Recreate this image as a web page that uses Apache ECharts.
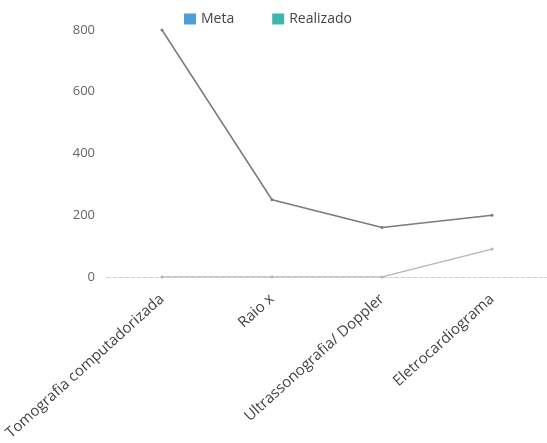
<!DOCTYPE html>
<html><head><meta charset="utf-8">
<script src="https://cdn.jsdelivr.net/npm/echarts@6/dist/echarts.min.js"></script>
<style>html,body{margin:0;padding:0;background:#fff}#c{width:547px;height:443px}</style>
</head><body><div id="c"></div>
<script>
const categories = ['Tomografia computadorizada', 'Raio x', 'Ultrassonografia/ Doppler', 'Eletrocardiograma'];
const meta = [800, 250, 160, 200];
const realizado = [0, 0, 0, 90];
const yTicks = [0, 200, 400, 600, 800];

const chart = echarts.init(document.getElementById('c'));
chart.setOption({
  animation: false,
  textStyle: { fontFamily: 'Open Sans' },
  legend: {
    top: 7, left: 179,
    icon: 'rect', itemWidth: 12, itemHeight: 11, itemGap: 38, itemTextGap: 11,
    textStyle: { fontSize: 14, color: '#444', fontFamily: 'Open Sans' },
    data: [
      { name: 'Meta', itemStyle: { color: '#4e9fd8' } },
      { name: 'Realizado', itemStyle: { color: '#3fb6ad' } }
    ]
  },
  grid: { left: 107, width: 450, top: 30, bottom: 166 },
  xAxis: {
    type: 'category', data: categories, boundaryGap: true,
    axisLine: { lineStyle: { color: '#d0d0d0', type: 'dashed' } },
    axisTick: { show: false },
    axisLabel: { rotate: 42, fontSize: 15, color: '#444', margin: 20, interval: 0 }
  },
  yAxis: {
    type: 'value', min: 0, max: 800, interval: 200,
    axisLine: { show: false }, axisTick: { show: false },
    splitLine: { show: false },
    axisLabel: { fontSize: 13, color: '#666', margin: 12 }
  },
  series: [
    { name: 'Meta', type: 'line', data: meta, symbol: 'circle', symbolSize: 3,
      lineStyle: { color: '#7a7a7a', width: 1.5 }, itemStyle: { color: '#7a7a7a' } },
    { name: 'Realizado', type: 'line', data: realizado, symbol: 'circle', symbolSize: 3,
      lineStyle: { color: '#b5b5b5', width: 1.2 }, itemStyle: { color: '#b5b5b5' } }
  ]
});
</script></body></html>
